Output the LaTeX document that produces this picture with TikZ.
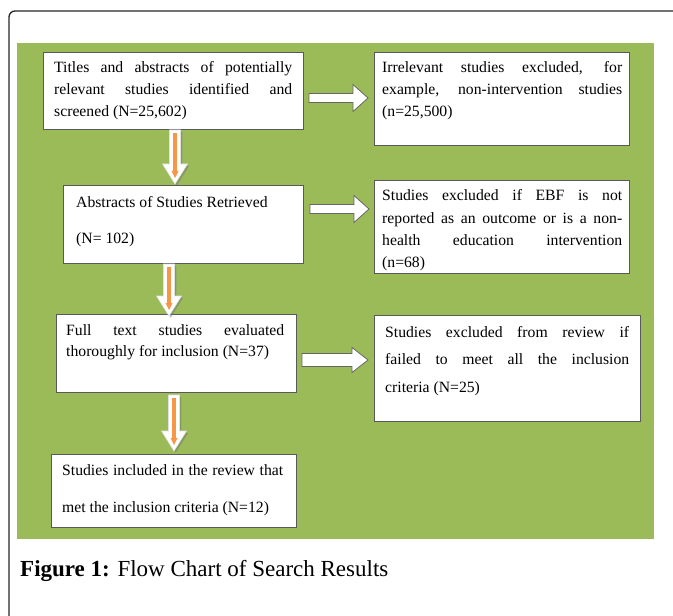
\documentclass[tikz,border=0pt]{standalone}
\usepackage{fontspec}
\setmainfont{Liberation Serif}
\usetikzlibrary{calc}
\definecolor{olivegreen}{HTML}{9BBB59}
\definecolor{arrorange}{HTML}{F79646}
\definecolor{boxline}{HTML}{595959}
\tolerance=10000
\hyphenpenalty=10000
\exhyphenpenalty=10000
\tikzset{
  box/.style={draw=boxline, line width=1.3bp, fill=white, inner sep=0pt, anchor=north west},
  txt/.style={inner sep=0pt, anchor=base west, align=justify, text width=#1},
  frameline/.style={draw=black!85, line width=1.3bp},
  rblock/.style={draw=black!60, line width=0.8bp, fill=white},
  dblock/.style={draw=black!12, line width=0.6bp, fill=white},
  dshadow/.style={fill=black!55, opacity=0.45},
  oline/.style={fill=arrorange},
}
\newcommand\fs[1]{\fontsize{15.7bp}{#1}\selectfont}
% right block arrow: #1 start, #2 tip, #3 half shaft, #4 half head, #5 head length
\newcommand\rightblock[5]{%
  \path[rblock] ($(#1)+(0,-#3)$) -- ($(#2)+(-#5,-#3)$) -- ($(#2)+(-#5,-#4)$) -- (#2)
    -- ($(#2)+(-#5,#4)$) -- ($(#2)+(-#5,#3)$) -- ($(#1)+(0,#3)$) -- cycle;}
% down block arrow polygon: #1 top, #2 tip, #3 dx, #4 dy, #5 style
\newcommand\dshape[5]{%
  \path[#5] ($(#1)+(-5.5+#3,#4)$) -- ($(#2)+(-5.5+#3,-20+#4)$) -- ($(#2)+(-12.5+#3,-20+#4)$)
    -- ($(#2)+(#3,#4)$) -- ($(#2)+(12.5+#3,-20+#4)$) -- ($(#2)+(5.5+#3,-20+#4)$)
    -- ($(#1)+(5.5+#3,#4)$) -- cycle;}
\newcommand\downblock[2]{%
  \dshape{#1}{#2}{1.8}{1.8}{dshadow}%
  \dshape{#1}{#2}{0}{0}{dblock}%
  \path[oline] ($(#1)+(-2,3)$) rectangle ($(#2)+(2,-13)$);
  \path[oline] ($(#2)+(-3.5,-13)$) -- ($(#2)+(0,-6)$) -- ($(#2)+(3.5,-13)$) -- cycle;}
\begin{document}
\begin{tikzpicture}[x=1bp, y=-1bp]
\useasboundingbox (0,0) rectangle (673,616);
% frame
\draw[frameline, rounded corners=6bp] (9,617) -- (9,11) -- (674,11);
% green panel
\fill[olivegreen] (17,43) rectangle (654,539);

% boxes
\node[box, minimum width=260bp, minimum height=77bp] (b1) at (43,52) {};
\node[box, minimum width=240bp, minimum height=78bp] (b2) at (63,185) {};
\node[box, minimum width=255bp, minimum height=93bp] (r1) at (374,52) {};
\node[box, minimum width=255bp, minimum height=93bp] (r2) at (374,180) {};
\node[box, minimum width=240bp, minimum height=78bp] (b3) at (56,314) {};
\node[box, minimum width=266bp, minimum height=106bp] (r3) at (374,315) {};
\node[box, minimum width=245bp, minimum height=73bp] (b4) at (51,454) {};

% texts
\node[txt=238bp, font=\fs{22bp}] (t1) at (54,73)
  {Titles and abstracts of potentially\linebreak relevant studies identified and\linebreak screened (N=25,602)};
\node[txt=220bp, font=\fs{36bp}] (t2) at (76,207)
  {Abstracts of Studies Retrieved\\ (N= 102)};
\node[txt=240bp, font=\fs{22bp}] (t3) at (382,73)
  {Irrelevant studies excluded, for\linebreak example, non-intervention studies\linebreak (n=25,500)};
\node[txt=240bp, font=\fs{22bp}] (t4) at (382,201)
  {Studies excluded if EBF is not\linebreak reported as an outcome or is a non-\linebreak health education intervention\linebreak (n=68)};
\node[txt=218bp, font=\fs{21bp}] (t5) at (66,335)
  {Full text studies evaluated\linebreak thoroughly for inclusion (N=37)};
\node[txt=244bp, font=\fs{27.5bp}] (t6) at (385,337)
  {Studies excluded from review if\linebreak failed to meet all the inclusion\linebreak criteria (N=25)};
\node[txt=221bp, font=\fs{37bp}] (t7) at (62,475)
  {Studies included in the review that\linebreak met the inclusion criteria (N=12)};

% right block arrows
\coordinate (ra1) at (309,98);  \coordinate (rb1) at (368,98);
\coordinate (ra2) at (310,209); \coordinate (rb2) at (369,209);
\coordinate (ra3) at (302,360); \coordinate (rb3) at (368,360);
\rightblock{ra1}{rb1}{4.5}{13.5}{15}
\rightblock{ra2}{rb2}{4.5}{13.5}{15}
\rightblock{ra3}{rb3}{6.5}{12.5}{16}

% down block arrows
\coordinate (da1) at (175,130); \coordinate (db1) at (175,184);
\coordinate (da2) at (169,264); \coordinate (db2) at (169,316);
\coordinate (da3) at (174,395); \coordinate (db3) at (174,451);
\downblock{da1}{db1}
\downblock{da2}{db2}
\downblock{da3}{db3}

% caption
\node[inner sep=0pt, anchor=base west, font=\fontsize{23bp}{27bp}\selectfont] (cap) at (20,576)
  {\textbf{Figure 1:} Flow Chart of Search Results};
\end{tikzpicture}
\end{document}
